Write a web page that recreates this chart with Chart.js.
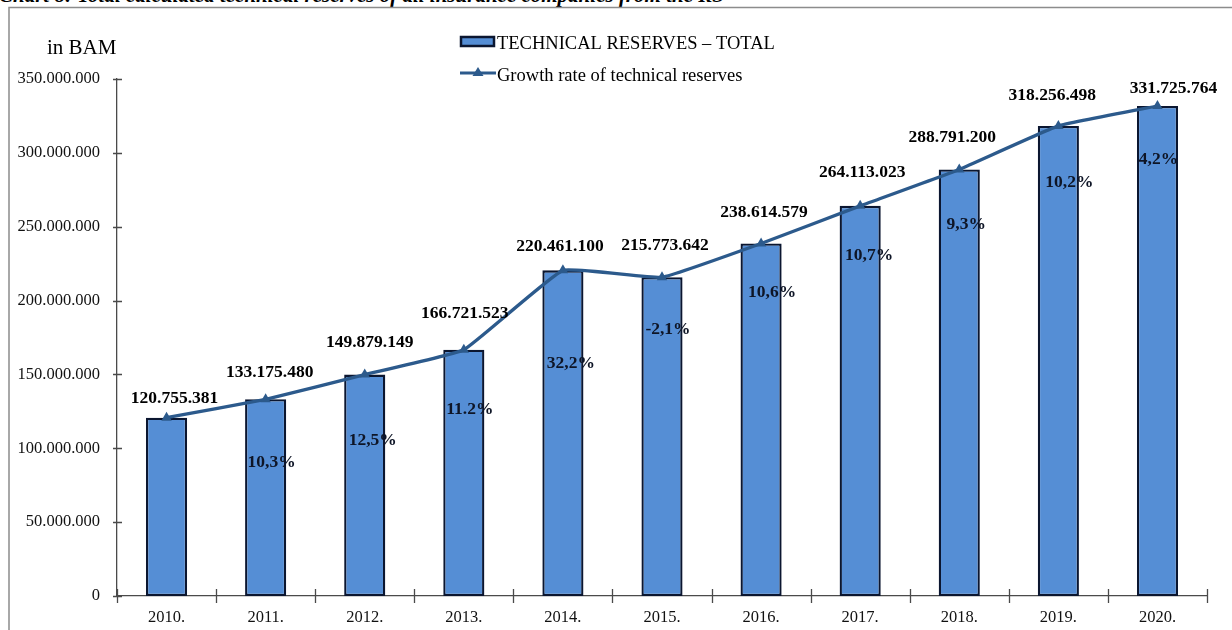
<!DOCTYPE html>
<html>
<head>
<meta charset="utf-8">
<script src="https://cdn.jsdelivr.net/npm/chart.js@4.4.1/dist/chart.umd.min.js"></script>
<style>
  html, body { margin: 0; padding: 0; background: #fff; }
  #wrap { position: relative; width: 1232px; height: 630px; overflow: hidden; }
  #caption {
    position: absolute; left: -1px; top: -15px;
    font: italic bold 21px "Liberation Serif", "Times New Roman", serif;
    line-height: 1; white-space: nowrap; color: #000;
  }
  canvas { position: absolute; left: 0; top: 0; }
</style>
</head>
<body>
<div id="wrap">
  <div id="caption">Chart 8: Total calculated technical reserves of all insurance companies from the RS</div>
  <canvas id="chart" width="1232" height="630"></canvas>
</div>
<script>
// Years on the category axis
const years = ['2010.', '2011.', '2012.', '2013.', '2014.', '2015.', '2016.', '2017.', '2018.', '2019.', '2020.'];

// Total technical reserves, in BAM
const technicalReserves = [
  120755381, 133175480, 149879149, 166721523, 220461100, 215773642,
  238614579, 264113023, 288791200, 318256498, 331725764
];

// Year-on-year growth rate, as printed inside the bars
const growthRateText = ['', '10,3%', '12,5%', '11.2%', '32,2%', '-2,1%', '10,6%', '10,7%', '9,3%', '10,2%', '4,2%'];

// Value axis ticks
const yTicks = [0, 50000000, 100000000, 150000000, 200000000, 250000000, 300000000, 350000000];

const SERIF = '"Liberation Serif", "Times New Roman", serif';
const BAR_FILL = '#558ed5';
const BAR_EDGE = '#0b1630';
const LINE_COLOR = '#2c5a8c';
const AXIS_COLOR = '#4a4a4a';

function groupDots(v) {
  return String(Math.round(v)).replace(/\B(?=(\d{3})+(?!\d))/g, '.');
}

// Frame, unit caption, legend and the crossing tick marks
const decorations = {
  id: 'decorations',
  afterDraw(chart) {
    const ctx = chart.ctx;
    const { x, y } = chart.scales;
    const area = chart.chartArea;
    ctx.save();

    // outer frame (top and left edges)
    ctx.strokeStyle = '#8c8c8c';
    ctx.lineWidth = 1.5;
    ctx.beginPath();
    ctx.moveTo(9, 640);
    ctx.lineTo(9, 7.5);
    ctx.lineTo(1240, 7.5);
    ctx.stroke();

    // unit
    ctx.fillStyle = '#000';
    ctx.font = '21px ' + SERIF;
    ctx.textAlign = 'left';
    ctx.textBaseline = 'middle';
    ctx.fillText('in BAM', 47, 48);

    // tick marks crossing the axes
    ctx.strokeStyle = AXIS_COLOR;
    ctx.lineWidth = 1.3;
    ctx.beginPath();
    yTicks.forEach(v => {
      const py = Math.round(y.getPixelForValue(v)) + 0.5;
      ctx.moveTo(area.left - 4, py);
      ctx.lineTo(area.left + 5, py);
    });
    for (let i = 0; i <= years.length; i++) {
      const px = Math.round(x.getPixelForValue(i - 0.5)) + 0.5;
      ctx.moveTo(px, area.bottom - 7);
      ctx.lineTo(px, area.bottom + 7);
    }
    ctx.stroke();

    // legend
    const lx = 461;
    ctx.fillStyle = BAR_FILL;
    ctx.strokeStyle = BAR_EDGE;
    ctx.lineWidth = 2.5;
    ctx.fillRect(lx, 37, 33, 9);
    ctx.strokeRect(lx, 37, 33, 9);

    ctx.strokeStyle = LINE_COLOR;
    ctx.lineWidth = 3.2;
    ctx.beginPath();
    ctx.moveTo(lx - 1, 73);
    ctx.lineTo(lx + 35, 73);
    ctx.stroke();
    ctx.fillStyle = LINE_COLOR;
    ctx.beginPath();
    ctx.moveTo(lx + 17, 67);
    ctx.lineTo(lx + 22.5, 76);
    ctx.lineTo(lx + 11.5, 76);
    ctx.closePath();
    ctx.fill();

    ctx.fillStyle = '#000';
    ctx.font = '18.5px ' + SERIF;
    ctx.textBaseline = 'middle';
    ctx.fillText(chart.data.datasets[0].label, 497, 44);
    ctx.fillText(chart.data.datasets[1].label, 497, 76);

    ctx.restore();
  }
};

// Value labels above the bars and growth labels inside them
const barLabels = {
  id: 'barLabels',
  afterDatasetsDraw(chart, args, opts) {
    const ctx = chart.ctx;
    const meta = chart.getDatasetMeta(0);
    const values = chart.data.datasets[0].data;
    ctx.save();
    ctx.textAlign = 'center';
    ctx.textBaseline = 'middle';
    meta.data.forEach((bar, i) => {
      const v = opts.valueNudge[i];
      ctx.fillStyle = '#000';
      ctx.font = 'bold 17.5px ' + SERIF;
      ctx.fillText(groupDots(values[i]), bar.x + v[0], bar.y + v[1]);
      if (growthRateText[i]) {
        const g = opts.growthNudge[i];
        ctx.fillStyle = '#0e1526';
        ctx.fillText(growthRateText[i], bar.x + g[0], bar.y + g[1]);
      }
    });
    ctx.restore();
  }
};

new Chart(document.getElementById('chart'), {
  data: {
    labels: years,
    datasets: [
      {
        type: 'bar',
        label: 'TECHNICAL RESERVES \u2013 TOTAL',
        data: technicalReserves,
        backgroundColor: BAR_FILL,
        borderColor: BAR_EDGE,
        borderWidth: 2.3,
        borderSkipped: false,
        categoryPercentage: 1,
        barPercentage: 0.415,
        order: 2
      },
      {
        type: 'line',
        label: 'Growth rate of technical reserves',
        data: technicalReserves,
        borderColor: LINE_COLOR,
        backgroundColor: LINE_COLOR,
        borderWidth: 3.3,
        tension: 0.1,
        pointStyle: 'triangle',
        pointRadius: 6,
        pointBorderWidth: 0,
        pointBackgroundColor: LINE_COLOR,
        order: 1
      }
    ]
  },
  options: {
    responsive: false,
    animation: false,
    devicePixelRatio: 1,
    layout: { padding: { top: 79, right: 25, left: 0, bottom: 0 } },
    plugins: {
      legend: { display: false },
      tooltip: { enabled: false },
      barLabels: {
        valueNudge: [[8, -19], [4, -27], [5, -32], [1, -36], [-3, -24], [3, -32], [3, -31], [2, -33], [-7, -32], [-6, -30], [16, -18]],
        growthNudge: [[0, 0], [6, 63], [8, 66], [6, 60], [8, 93], [6, 52], [11, 49], [9, 50], [7, 55], [11, 57], [1, 53]]
      }
    },
    scales: {
      x: {
        offset: true,
        grid: { display: false },
        border: { display: true, color: AXIS_COLOR, width: 1.3 },
        ticks: { color: '#111', font: { family: SERIF, size: 16.5 }, padding: 4, maxRotation: 0, autoSkip: false },
        afterFit(s) { s.height = 34; }
      },
      y: {
        min: 0,
        max: 350000000,
        grid: { display: false },
        border: { display: true, color: AXIS_COLOR, width: 1.3 },
        afterBuildTicks(s) { s.ticks = yTicks.map(v => ({ value: v })); },
        ticks: {
          color: '#111',
          font: { family: SERIF, size: 16.5 },
          padding: 9,
          callback: v => groupDots(v)
        },
        afterFit(s) { s.width = 117; }
      }
    }
  },
  plugins: [barLabels, decorations]
});
</script>
</body>
</html>
